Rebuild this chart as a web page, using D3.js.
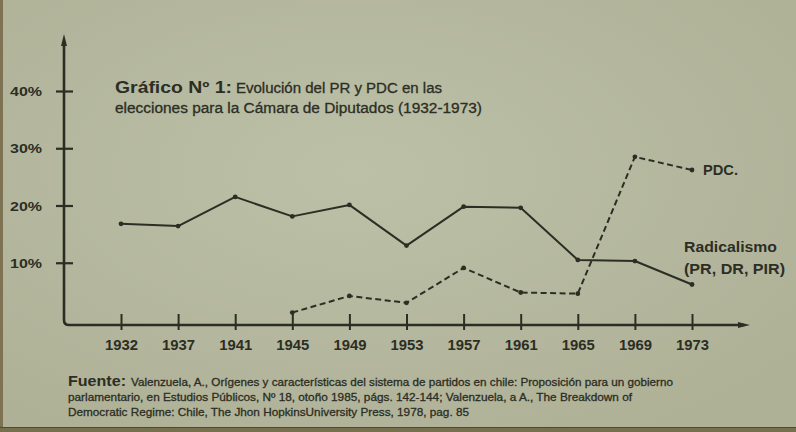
<!DOCTYPE html>
<html>
<head>
<meta charset="utf-8">
<script src="https://cdn.jsdelivr.net/npm/d3@7/dist/d3.min.js"></script>
<style>
  html, body { margin: 0; padding: 0; background: #b5b9a1; }
  svg { display: block; }
  text { font-family: "Liberation Sans", Arial, "DejaVu Sans Condensed", sans-serif; fill: #2c2e24; }
  .ink { stroke: #2c2e24; stroke-width: 0.3px; }
</style>
</head>
<body>
<svg id="chart" width="796" height="432"></svg>
<script>
// ---- data ----
const years = ["1932","1937","1941","1945","1949","1953","1957","1961","1965","1969","1973"];
const radicalYears = ["1932","1937","1941","1945","1949","1953","1957","1961","1965","1969","1973"];
const radicalValues = [16.8, 16.4, 21.5, 18.1, 20.1, 13.0, 19.8, 19.6, 10.5, 10.3, 6.2];
const pdcYears = ["1945","1949","1953","1957","1961","1965","1969","1973"];
const pdcValues = [1.3, 4.2, 3.0, 9.1, 4.8, 4.6, 28.5, 26.2];
const yTicks = [10, 20, 30, 40];
const yTickLabels = ["10%", "20%", "30%", "40%"];
const titleBold = "Gráfico Nº 1:";
const titleLine1 = "Evolución del PR y PDC en las";
const titleLine2 = "elecciones para la Cámara de Diputados (1932-1973)";
const seriesLabelPDC = "PDC.";
const seriesLabelRad1 = "Radicalismo";
const seriesLabelRad2 = "(PR, DR, PIR)";
const sourceBold = "Fuente:";
const sourceLines = [
  "Valenzuela, A., Orígenes y características del sistema de partidos en chile: Proposición para un gobierno",
  "parlamentario, en Estudios Públicos, Nº 18, otoño 1985, págs. 142-144; Valenzuela, a A., The Breakdown of",
  "Democratic Regime: Chile, The Jhon HopkinsUniversity Press, 1978, pag. 85"
];

// ---- layout ----
const ink = "#2c2e24";
const svg = d3.select("#chart");

// paper
svg.append("rect").attr("width", 796).attr("height", 432).attr("fill", "#b5b9a1");
const grad = svg.append("defs").append("radialGradient").attr("id", "paper")
  .attr("cx", "45%").attr("cy", "40%").attr("r", "70%");
grad.append("stop").attr("offset", "0%").attr("stop-color", "#bcc1a8").attr("stop-opacity", 0.9);
grad.append("stop").attr("offset", "100%").attr("stop-color", "#aeb095").attr("stop-opacity", 0.9);
svg.append("rect").attr("width", 796).attr("height", 432).attr("fill", "url(#paper)");
svg.append("rect").attr("x", 0).attr("y", 0).attr("width", 3).attr("height", 432).attr("fill", "#7d7352");
svg.append("rect").attr("x", 0).attr("y", 427).attr("width", 796).attr("height", 5).attr("fill", "#77704f");
svg.append("line").attr("x1", 0).attr("x2", 796).attr("y1", 427.5).attr("y2", 427.5).attr("stroke", "#4d4a36").attr("stroke-width", 1);

const x = d3.scalePoint().domain(years).range([121, 692]);
const y = d3.scaleLinear().domain([0, 40]).range([320, 91]);

const axisY0 = 325;   // x-axis baseline (slightly below 0%)
const axisX0 = 64;

// y axis with arrow
const yAxis = d3.axisLeft(y).tickValues(yTicks).tickFormat((d, i) => yTickLabels[i]).tickSize(0);
const gy = svg.append("g").attr("transform", `translate(${axisX0},0)`).call(yAxis);
gy.select(".domain").remove();
gy.selectAll(".tick line").attr("x1", -8).attr("x2", 9).attr("stroke", ink).attr("stroke-width", 2.2);
gy.selectAll(".tick text").attr("x", -22).attr("dy", "0.35em")
  .attr("font-size", 13).attr("font-weight", "bold").attr("fill", ink)
  .attr("textLength", 32).attr("lengthAdjust", "spacingAndGlyphs");

// axes lines (L shape with rounded corner)
svg.append("path")
  .attr("d", `M${axisX0},42 L${axisX0},${axisY0 - 5} Q${axisX0},${axisY0} ${axisX0 + 5},${axisY0} L744,${axisY0}`)
  .attr("fill", "none").attr("stroke", ink).attr("stroke-width", 2.6);
// arrowheads
svg.append("path").attr("d", `M${axisX0 - 3},46 L${axisX0},34 L${axisX0 + 3},46 Z`).attr("fill", ink);
svg.append("path").attr("d", `M738,${axisY0 - 3} L750,${axisY0} L738,${axisY0 + 3} Z`).attr("fill", ink);

// x axis
const xAxis = d3.axisBottom(x).tickSize(0);
const gx = svg.append("g").attr("transform", `translate(0,${axisY0})`).call(xAxis);
gx.select(".domain").remove();
gx.selectAll(".tick line").attr("y1", -11).attr("y2", 5).attr("stroke", ink).attr("stroke-width", 2);
gx.selectAll(".tick text").attr("y", 25).attr("dy", 0)
  .attr("font-size", 15).attr("font-weight", "bold").attr("fill", ink)
  .attr("textLength", 33).attr("lengthAdjust", "spacingAndGlyphs");

// lines
const line = d3.line().x(d => x(d[0])).y(d => y(d[1]));
const radData = radicalYears.map((yr, i) => [yr, radicalValues[i]]);
const pdcData = pdcYears.map((yr, i) => [yr, pdcValues[i]]);

svg.append("path").datum(radData).attr("d", line)
  .attr("fill", "none").attr("stroke", ink).attr("stroke-width", 2).attr("stroke-linejoin", "round");
svg.append("path").datum(pdcData).attr("d", line)
  .attr("fill", "none").attr("stroke", ink).attr("stroke-width", 2).attr("stroke-dasharray", "6,3.5");

svg.selectAll(".rdot").data(radData).enter().append("circle")
  .attr("cx", d => x(d[0])).attr("cy", d => y(d[1])).attr("r", 2.4).attr("fill", ink);
svg.selectAll(".pdot").data(pdcData).enter().append("circle")
  .attr("cx", d => x(d[0])).attr("cy", d => y(d[1])).attr("r", 2.4).attr("fill", ink);

// title
svg.append("text").attr("x", 115).attr("y", 93).text(titleBold)
  .attr("font-size", 16).attr("font-weight", "bold")
  .attr("textLength", 117).attr("lengthAdjust", "spacingAndGlyphs");
svg.append("text").attr("class", "ink").attr("x", 236).attr("y", 93).text(titleLine1)
  .attr("font-size", 14)
  .attr("textLength", 206).attr("lengthAdjust", "spacingAndGlyphs");
svg.append("text").attr("class", "ink").attr("x", 115).attr("y", 113).text(titleLine2)
  .attr("font-size", 14)
  .attr("textLength", 367).attr("lengthAdjust", "spacingAndGlyphs");

// series labels
svg.append("text").attr("x", 703).attr("y", 175).text(seriesLabelPDC)
  .attr("font-size", 14).attr("font-weight", "bold")
  .attr("textLength", 35).attr("lengthAdjust", "spacingAndGlyphs");
svg.append("text").attr("x", 684).attr("y", 252).text(seriesLabelRad1)
  .attr("font-size", 14).attr("font-weight", "bold")
  .attr("textLength", 93).attr("lengthAdjust", "spacingAndGlyphs");
svg.append("text").attr("x", 684).attr("y", 274).text(seriesLabelRad2)
  .attr("font-size", 14).attr("font-weight", "bold")
  .attr("textLength", 101).attr("lengthAdjust", "spacingAndGlyphs");

// source
svg.append("text").attr("x", 68).attr("y", 386).text(sourceBold)
  .attr("font-size", 14).attr("font-weight", "bold")
  .attr("textLength", 58).attr("lengthAdjust", "spacingAndGlyphs");
const srcX = [131, 68, 68];
const srcEnd = [673, 632, 469];
const srcY = [386, 401, 416];
sourceLines.forEach((s, i) => {
  svg.append("text").attr("class", "ink").attr("x", srcX[i]).attr("y", srcY[i]).text(s)
    .attr("font-size", 11)
    .attr("textLength", srcEnd[i] - srcX[i]).attr("lengthAdjust", "spacingAndGlyphs");
});
</script>
</body>
</html>
